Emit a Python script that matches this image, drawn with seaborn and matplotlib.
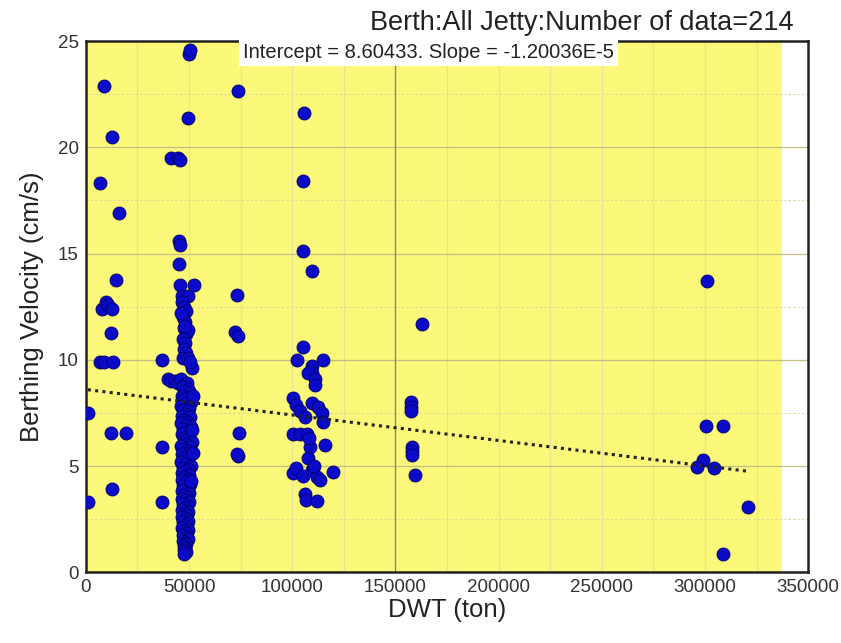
import numpy as np
import pandas as pd
import matplotlib
matplotlib.use("Agg")
import matplotlib.pyplot as plt
import seaborn as sns
from matplotlib.ticker import MultipleLocator

# ---------------- data ----------------
title = "Berth:All Jetty:Number of data=214"
annotation = "Intercept = 8.60433. Slope = -1.20036E-5"
intercept = 8.60433
slope = -1.20036e-5

# small ships (< 40000 t)
small_x = [1000, 1000, 8700, 12600, 6800, 16000, 14500, 8000, 10000, 11000, 12600,
           12000, 7000, 9000, 13000, 12000, 19500, 12600, 37000, 37000, 37000]
small_y = [7.5, 3.3, 22.9, 20.5, 18.3, 16.9, 13.75, 12.4, 12.7, 12.6, 12.4,
           11.25, 9.9, 9.9, 9.9, 6.55, 6.55, 3.9, 10.0, 5.9, 3.3]

# ~50000 t column: upper outliers
col_top_x = [50000, 50500, 49500, 41500, 44500, 45500, 45000, 45000, 45500, 52400, 45500]
col_top_y = [24.4, 24.6, 21.4, 19.5, 19.5, 19.4, 15.6, 14.5, 13.5, 13.5, 15.4]

# ~50000 t column: 10 - 13
col_mid_x = [46500, 49500, 46500, 47500, 48500, 47000, 48000, 47500, 48500, 49500,
             47000, 48000, 47500, 48500, 47000, 49500, 51500, 50500, 46000, 48000]
col_mid_y = [13.0, 13.0, 12.7, 12.5, 12.3, 12.0, 11.8, 11.5, 11.2, 11.4,
             11.0, 10.8, 10.5, 10.3, 10.1, 10.1, 9.6, 9.9, 12.2, 11.6]

# ~50000 t column: dense band below 9.2
col_low_x = [40000, 41500, 43000, 44500, 46000, 47500, 49000,
             47000, 49500, 48000, 50500, 46500, 49000, 47500, 51000, 48500, 46000,
             50000, 47000, 49500, 48000, 46500, 50500, 47500, 49000, 46000, 48500,
             51000, 47000, 49500, 48000, 46500, 50000, 47500, 49000, 51500, 48500,
             46000, 50500, 47000, 49500, 48000, 46500, 50000, 47500, 49000, 46000,
             48500, 51000, 47000, 49500, 48000, 46500, 50000, 47500, 49000, 46500,
             48500, 50500, 47000, 49500, 48000, 46500, 50000, 47500, 49000, 46500,
             48500, 50000, 47000, 49000, 48000, 46500, 49500, 47500, 48500, 46500,
             48500, 49500, 47000, 49000, 48000, 46500, 49500, 47500, 48500, 47000,
             48500, 49500, 47000, 48000, 48500, 47500, 48000, 47500, 48500, 47500,
             51800, 52000, 51500, 51000]
col_low_y = [9.1, 9.0, 9.0, 8.9, 9.1, 8.8, 8.9,
             8.72, 8.61, 8.55, 8.43, 8.30, 8.22, 8.15, 8.02, 7.95, 7.83,
             7.74, 7.66, 7.58, 7.47, 7.36, 7.30, 7.18, 7.09, 7.01, 6.92,
             6.85, 6.74, 6.66, 6.58, 6.49, 6.40, 6.31, 6.22, 6.13, 6.05,
             5.96, 5.88, 5.79, 5.70, 5.62, 5.55, 5.44, 5.36, 5.27, 5.19,
             5.10, 5.02, 4.93, 4.84, 4.76, 4.67, 4.58, 4.50, 4.41, 4.33,
             4.24, 4.15, 4.07, 3.98, 3.90, 3.81, 3.72, 3.64, 3.55, 3.46,
             3.38, 3.29, 3.21, 3.12, 3.03, 2.95, 2.86, 2.78, 2.69, 2.60,
             2.52, 2.43, 2.35, 2.26, 2.17, 2.09, 2.00, 1.92, 1.83, 1.74,
             1.66, 1.57, 1.49, 1.40, 1.31, 1.23, 1.14, 1.06, 0.97, 0.88,
             8.3, 5.6, 6.7, 4.3]

# ~74000 t
mid_x = [73700, 73200, 72200, 73700, 74200, 73700, 73200]
mid_y = [22.65, 13.05, 11.3, 11.1, 6.55, 5.45, 5.55]

# ~100000 - 120000 t
big_x = [105700, 105200, 105200, 109500, 105200, 102300, 115000, 109500, 109500, 107600,
         111000, 111000, 100300, 101800, 103700, 106000, 109500, 112500, 114400, 115000,
         100300, 103700, 107000, 108600, 115900, 107600, 100300, 101800, 105200, 109500,
         112000, 113400, 119700, 106200, 106500, 112000, 110500, 108000]
big_y = [21.6, 18.4, 15.1, 14.2, 10.6, 10.0, 10.0, 9.7, 9.4, 9.4,
         9.1, 8.8, 8.2, 7.85, 7.6, 7.3, 7.95, 7.8, 7.5, 7.05,
         6.5, 6.5, 6.5, 5.9, 6.0, 5.4, 4.65, 4.9, 4.55, 4.8,
         4.5, 4.35, 4.7, 3.7, 3.4, 3.35, 5.0, 6.3]

# ~160000 t
v160_x = [162900, 157500, 157500, 157500, 158000, 158000, 158000, 159500]
v160_y = [11.7, 8.0, 7.8, 7.6, 5.9, 5.7, 5.5, 4.6]

# ~300000 t
v300_x = [301000, 300500, 308800, 299000, 296100, 304400, 320900, 308800]
v300_y = [13.7, 6.9, 6.9, 5.27, 4.95, 4.9, 3.05, 0.85]

x_ticks = [0, 50000, 100000, 150000, 200000, 250000, 300000, 350000]
y_ticks = [0, 5, 10, 15, 20, 25]

df = pd.DataFrame({
    "DWT": small_x + col_top_x + col_mid_x + col_low_x + mid_x + big_x + v160_x + v300_x,
    "V": small_y + col_top_y + col_mid_y + col_low_y + mid_y + big_y + v160_y + v300_y,
})

# ---------------- plot ----------------
sns.set_theme(style="white")
plt.rcParams["font.family"] = ["Liberation Sans", "DejaVu Sans"]

fig = plt.figure(figsize=(8.41, 6.43), dpi=100)
ax = fig.add_axes([0.102, 0.110, 0.859, 0.826])

ax.set_facecolor("white")
ax.axvspan(0, 337500, color="#FCF87A", zorder=0, lw=0)

ax.set_xlim(0, 350000)
ax.set_ylim(0, 25)
ax.xaxis.set_major_locator(MultipleLocator(50000))
ax.xaxis.set_minor_locator(MultipleLocator(25000))
ax.yaxis.set_major_locator(MultipleLocator(5))
ax.yaxis.set_minor_locator(MultipleLocator(2.5))
ax.grid(which="major", axis="y", color="#C2BE86", lw=0.9, zorder=1)
ax.grid(which="minor", axis="y", color="#DCD89A", lw=0.8, ls=(0, (2, 2)), zorder=1)
ax.grid(which="both", axis="x", color="#E6E29A", lw=0.8, zorder=1)
ax.axvline(150000, color="#8F8C62", lw=1.0, zorder=1)
ax.set_axisbelow(True)

sns.scatterplot(data=df, x="DWT", y="V", ax=ax, color="#0A0AC8", s=88,
                edgecolor="#00006A", linewidth=0.6, zorder=3, legend=False)

x_line = np.array([df["DWT"].min(), df["DWT"].max()])
line_df = pd.DataFrame({"DWT": x_line, "V": intercept + slope * x_line})
sns.lineplot(data=line_df, x="DWT", y="V", ax=ax, color="#222222", lw=2.2,
             linestyle=(0, (1, 1.4)), zorder=4)

ax.set_xticks(x_ticks)
ax.set_yticks(y_ticks)
ax.tick_params(which="major", direction="in", length=7, width=1.5, colors="#222222",
               labelsize=13.5, labelcolor="#333333", pad=5)
ax.tick_params(which="minor", direction="in", length=4, width=1.2, colors="#222222")
for sp in ax.spines.values():
    sp.set_visible(True)
    sp.set_color("#222222")
    sp.set_linewidth(1.8)

ax.set_xlabel("DWT (ton)", fontsize=18.5, color="#222222", labelpad=1)
ax.set_ylabel("Berthing Velocity (cm/s)", fontsize=18.5, color="#222222", labelpad=10)

fig.text(0.943, 0.954, title, ha="right", va="baseline", fontsize=19.5, color="#222222")
ax.text(0.474, 0.997, annotation, transform=ax.transAxes, ha="center", va="top",
        fontsize=14.5, color="#222222", zorder=5,
        bbox=dict(boxstyle="square,pad=0.2", facecolor="white", edgecolor="none"))

fig.savefig("out.png", dpi=100)
